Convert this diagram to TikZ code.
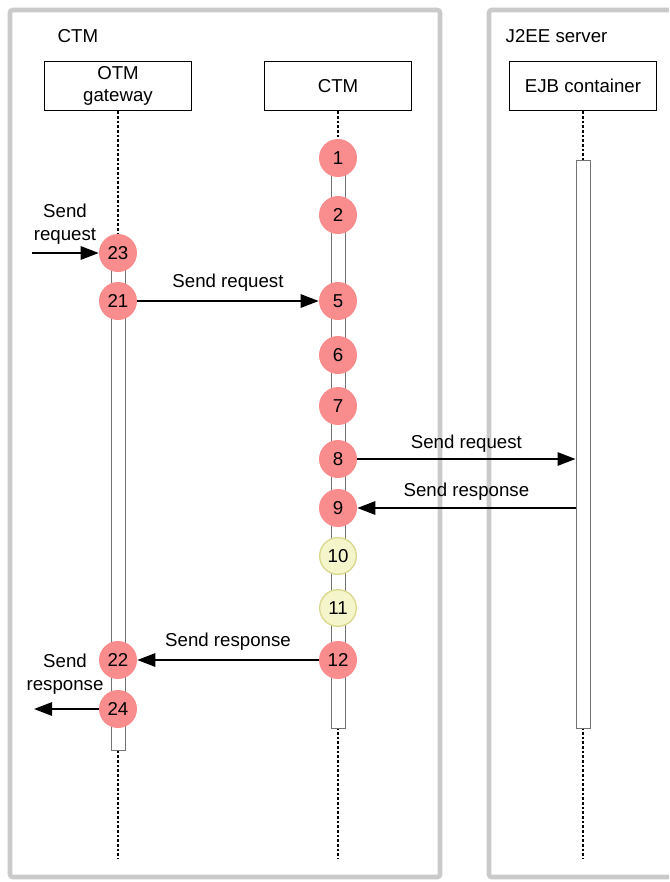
\documentclass[tikz,border=0pt]{standalone}
\usepackage{fontspec}
\setmainfont{Liberation Sans}
\usetikzlibrary{arrows.meta,positioning}

\definecolor{stepred}{HTML}{F98C8C}
\definecolor{stepyellow}{HTML}{F5F5CC}
\definecolor{stepyellowline}{HTML}{D8D88E}
\definecolor{framegray}{HTML}{CACACA}

\begin{document}
\begin{tikzpicture}[
  x=0.75pt,y=-0.75pt,
  every node/.style={font=\fontsize{14}{17}\selectfont},
  frame/.style={draw=framegray,line width=3.4pt,rounded corners=2pt},
  objbox/.style={draw,line width=0.9pt,fill=white,minimum width=110pt,
                 minimum height=37pt,align=center,inner sep=1pt},
  lifeline/.style={line width=1.4pt,dash pattern=on 2pt off 1.5pt},
  actbar/.style={draw=black!55,line width=0.7pt,fill=white,minimum width=10.5pt,
                 inner sep=0pt},
  stepred/.style={circle,fill=stepred,minimum size=28.5pt,inner sep=0pt},
  stepyel/.style={circle,fill=stepyellow,draw=stepyellowline,line width=1pt,
                  minimum size=27.5pt,inner sep=0pt},
  msg/.style={line width=1.4pt,-{Triangle[length=13.5pt,width=10pt]}},
  msglabel/.style={align=center},
]

\clip (0,0) rectangle (669,882);

% Frames
\draw[frame] (10,10) rectangle (440,877);
\draw[frame] (489,10) rectangle (690,877);
\node[anchor=west] (ctmtitle) at (53,36) {CTM};
\node[anchor=west] (j2eetitle) at (501,36) {J2EE server};

% Objects
\node[objbox] (otm) at (118,86) {OTM\\gateway};
\node[objbox] (ctm) at (338,86) {CTM};
\node[objbox] (ejb) at (583,86) {EJB container};

% Lifelines
\coordinate (otmend) at (118,858);
\coordinate (ctmend) at (338,858);
\coordinate (ejbend) at (583,858);
\draw[lifeline] (otm.south) -- (otmend);
\draw[lifeline] (ctm.south) -- (ctmend);
\draw[lifeline] (ejb.south) -- (ejbend);

% Activation bars
\node[actbar,minimum height=373.5pt] (otmbar) at (118,501) {};
\node[actbar,minimum height=427.5pt] (ctmbar) at (338,443) {};
\node[actbar,minimum height=426pt] (ejbbar) at (583,444) {};

% Steps
\node[stepred] (s1) at (338,158) {1};
\node[stepred] (s2) at (338,215) {2};
\node[stepred] (s23) at (118,253) {23};
\node[stepred] (s21) at (118,301) {21};
\node[stepred] (s5) at (338,301) {5};
\node[stepred] (s6) at (338,355) {6};
\node[stepred] (s7) at (338,406) {7};
\node[stepred] (s8) at (338,459) {8};
\node[stepred] (s9) at (338,508) {9};
\node[stepyel] (s10) at (338,556) {10};
\node[stepyel] (s11) at (338,608) {11};
\node[stepred] (s12) at (338,660) {12};
\node[stepred] (s22) at (118,660) {22};
\node[stepred] (s24) at (118,709) {24};

% Messages
\coordinate (reqin) at (32,253);
\coordinate (resout) at (34,709);
\draw[msg] (reqin) -- (s23);
\node[msglabel] (lreqin) at (65,224) {Send\\request};
\draw[msg] (s21) -- (s5) node[midway,above=3pt] (lreq1) {Send request};
\draw[msg] (s8) -- (ejbbar.west |- s8) node[midway,above=1pt] (lreq2) {Send request};
\draw[msg] (ejbbar.west |- s9) -- (s9) node[midway,above=2pt] (lres1) {Send response};
\draw[msg] (s12) -- (s22) node[midway,above=3pt] (lres2) {Send response};
\draw[msg] (s24) -- (resout);
\node[msglabel] (lresout) at (65,674) {Send\\response};

\end{tikzpicture}
\end{document}
